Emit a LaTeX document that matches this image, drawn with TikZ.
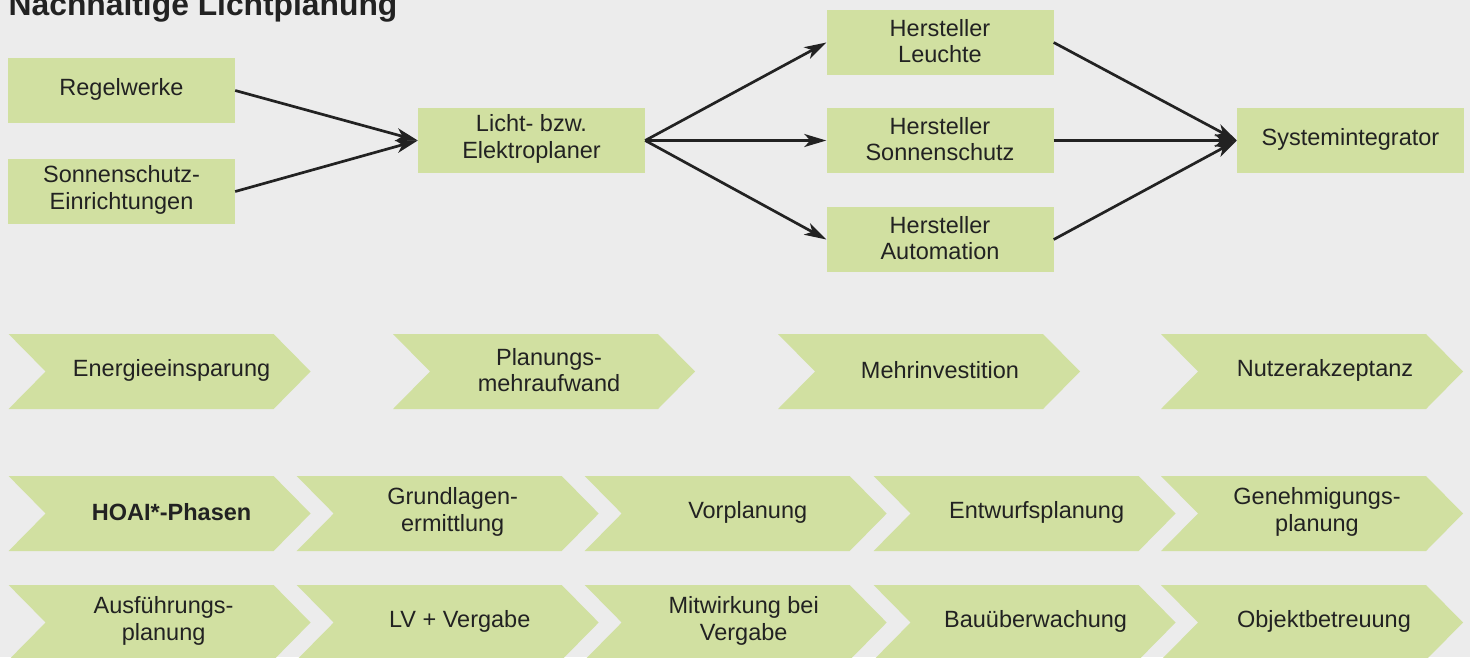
\documentclass[tikz,border=0pt]{standalone}
\usepackage{fontspec}
\setmainfont{Liberation Sans}
\usetikzlibrary{arrows.meta}
\definecolor{bg}{HTML}{ECECEC}
\definecolor{boxg}{HTML}{D1E0A1}
\definecolor{txt}{HTML}{222222}
\newcommand\mychev[5]{%
  \fill[boxg] (#1,#2) -- ++(265,0) -- ++(37,37.5) -- ++(-37,37.5) -- ++(-265,0) -- ++(37,-37.5) -- cycle;
  \node[lbl,yshift=1.5pt] (#3) at ({#1+#4},{#2+37.5}) {#5};}
\newcommand\mybox[3]{%
  \node[box] (#1) at (#2) {};
  \node[lbl,yshift=1.5pt] (#1t) at (#1.center) {#3};}
\begin{document}
\begin{tikzpicture}[x=1pt,y=-1pt,
  lbl/.style={align=center,text=txt,inner sep=0pt,font=\fontsize{23.5}{26.7}\selectfont},
  box/.style={fill=boxg,inner sep=0pt,minimum width=227pt,minimum height=65pt},
  arr/.style={-{Stealth[length=22pt,width=13pt,inset=6pt]},line width=2.7pt,draw=txt}]
\fill[bg] (0,0) rectangle (1470,657);
\useasboundingbox (0,0) rectangle (1470,657);
\node[anchor=base west,inner sep=0pt,text=txt,font=\bfseries\fontsize{31.8}{32}\selectfont] (title) at (8.5,15) {Nachhaltige Lichtplanung};
% top graph
\mybox{rw}{121.5,90.5}{Regelwerke}
\mybox{ss}{121.5,191.5}{Sonnenschutz-\\Einrichtungen}
\mybox{lp}{531.5,140.5}{Licht- bzw.\\Elektroplaner}
\mybox{hl}{940,42.5}{Hersteller\\Leuchte}
\mybox{hs}{940,140.5}{Hersteller\\Sonnenschutz}
\mybox{ha}{940,239.5}{Hersteller\\Automation}
\mybox{si}{1350.5,140.5}{Systemintegrator}
\draw[arr] (rw.east) -- (lp.west);
\draw[arr] (ss.east) -- (lp.west);
\draw[arr] (lp.east) -- (hl.west);
\draw[arr] (lp.east) -- (hs.west);
\draw[arr] (lp.east) -- (ha.west);
\draw[arr] (hl.east) -- (si.west);
\draw[arr] (hs.east) -- (si.west);
\draw[arr] (ha.east) -- (si.west);
% row 1
\mychev{8.6}{334}{c1}{163}{Energieeinsparung}
\mychev{393}{334}{c2}{156}{Planungs-\\mehraufwand}
\mychev{778}{334}{c3}{162}{Mehrinvestition}
\mychev{1161}{334}{c4}{164}{Nutzerakzeptanz}
% row 2
\mychev{8.6}{476}{p0}{163}{\bfseries HOAI*-Phasen}
\mychev{296.7}{476}{p1}{156}{Grundlagen-\\ermittlung}
\mychev{584.7}{476}{p2}{163}{Vorplanung}
\mychev{873.6}{476}{p3}{163}{Entwurfsplanung}
\mychev{1161}{476}{p4}{156}{Genehmigungs-\\planung}
% row 3
\mychev{8.6}{585}{p5}{155}{Ausführungs-\\planung}
\mychev{296.7}{585}{p6}{163}{LV + Vergabe}
\mychev{584.7}{585}{p7}{159}{Mitwirkung bei\\Vergabe}
\mychev{873.6}{585}{p8}{162}{Bauüberwachung}
\mychev{1161}{585}{p9}{163}{Objektbetreuung}
\end{tikzpicture}
\end{document}
